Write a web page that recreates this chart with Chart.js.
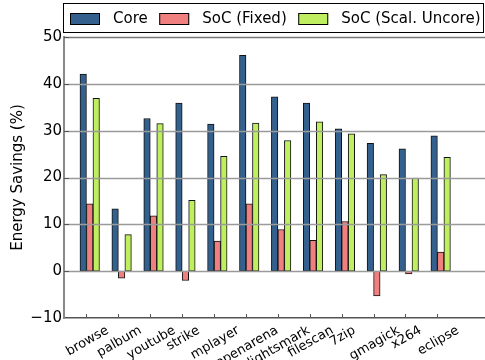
<!DOCTYPE html>
<html>
<head>
<meta charset="utf-8">
<script src="https://cdn.jsdelivr.net/npm/chart.js@4/dist/chart.umd.min.js"></script>
<style>
  html, body { margin: 0; padding: 0; background: #fff; }
  #wrap { width: 485px; height: 360px; }
</style>
</head>
<body>
<div id="wrap"><canvas id="c" width="485" height="360"></canvas></div>
<script>
const categories = ['browse','palbum','youtube','strike','mplayer','openarena','lightsmark','filescan','7zip','gmagick','x264','eclipse'];
const coreValues = [42.1, 13.3, 32.6, 35.9, 31.4, 46.1, 37.2, 35.9, 30.4, 27.3, 26.1, 28.9];
const socFixedValues = [14.4, -1.5, 11.8, -2.0, 6.4, 14.4, 8.9, 6.6, 10.6, -5.3, -0.6, 4.1];
const socScalValues = [36.9, 7.8, 31.5, 15.1, 24.5, 31.6, 27.9, 31.9, 29.3, 20.6, 19.9, 24.3];
const seriesNames = ['Core', 'SoC (Fixed)', 'SoC (Scal. Uncore)'];
const yTickValues = [-10, 0, 10, 20, 30, 40, 50];

const FONT = "'DejaVu Sans', sans-serif";
Chart.defaults.color = '#000';
Chart.defaults.font.family = FONT;

const colors = ['#33608c', '#f08080', '#bfef60'];
const toPoints = arr => arr.map((v, i) => ({ x: i, y: v }));

const overlay = {
  id: 'overlay',
  afterDatasetsDraw(chart) {
    const ctx = chart.ctx;
    const ca = chart.chartArea;
    const ys = chart.scales.y;
    ctx.save();
    yTickValues.forEach(v => {
      if (v === -10) return;
      const py = Math.round(ys.getPixelForValue(v)) + 0.5;
      ctx.strokeStyle = v === 50 ? '#777' : '#9a9a9a';
      ctx.lineWidth = 1.5;
      ctx.beginPath(); ctx.moveTo(ca.left, py); ctx.lineTo(ca.right, py); ctx.stroke();
      ctx.strokeStyle = '#555';
      ctx.lineWidth = 1;
      ctx.beginPath(); ctx.moveTo(ca.left, py); ctx.lineTo(ca.left + 5, py); ctx.stroke();
    });
    ctx.restore();
  },
  afterDraw(chart) {
    const ctx = chart.ctx;
    const ca = chart.chartArea;
    const xs = chart.scales.x;
    ctx.save();
    ctx.font = '13px ' + FONT;
    categories.forEach((name, i) => {
      const tx = xs.getPixelForValue(i - 0.102);
      ctx.strokeStyle = '#555';
      ctx.lineWidth = 1;
      ctx.beginPath(); ctx.moveTo(Math.round(tx) + 0.5, ca.bottom); ctx.lineTo(Math.round(tx) + 0.5, ca.bottom - 4); ctx.stroke();
      const w = ctx.measureText(name).width;
      const h = 13 * 1.15;
      const bboxH = w * 0.5 + h * 0.866;
      const cy = ca.bottom + 5 + bboxH / 2;
      ctx.save();
      ctx.translate(tx + 1, cy);
      ctx.rotate(-Math.PI / 6);
      ctx.fillStyle = '#000';
      ctx.textAlign = 'center';
      ctx.textBaseline = 'middle';
      ctx.fillText(name, 0, 0);
      ctx.restore();
    });
    ctx.strokeStyle = '#000';
    ctx.lineWidth = 1;
    ctx.strokeRect(63.5, 3.5, 420, 29);
    ctx.font = '15px ' + FONT;
    ctx.textBaseline = 'middle';
    ctx.textAlign = 'left';
    let x = 70;
    chart.data.datasets.forEach(ds => {
      ctx.fillStyle = ds.backgroundColor;
      ctx.fillRect(x, 13, 30, 12);
      ctx.strokeStyle = '#000';
      ctx.strokeRect(x + 0.5, 13.5, 29, 11);
      ctx.fillStyle = '#000';
      ctx.fillText(ds.label, x + 43, 19.5);
      x = x + 43 + ctx.measureText(ds.label).width + 11.5;
    });
    ctx.restore();
  }
};

new Chart(document.getElementById('c'), {
  type: 'bar',
  data: {
    datasets: [
      { label: seriesNames[0], data: toPoints(coreValues), backgroundColor: colors[0] },
      { label: seriesNames[1], data: toPoints(socFixedValues), backgroundColor: colors[1] },
      { label: seriesNames[2], data: toPoints(socScalValues), backgroundColor: colors[2] }
    ]
  },
  options: {
    responsive: false,
    animation: false,
    layout: { padding: { top: 37, left: 0, right: 0, bottom: 0 } },
    datasets: {
      bar: { barThickness: 6.5, borderWidth: 1, borderColor: '#111', borderSkipped: false }
    },
    plugins: { legend: { display: false }, tooltip: { enabled: false } },
    scales: {
      x: {
        type: 'linear',
        offset: false,
        min: -0.806,
        max: 12.39,
        ticks: { display: false },
        grid: { display: false, offset: false },
        border: { display: true, color: '#555', width: 1.5 },
        afterFit(scale) { scale.height = 42; }
      },
      y: {
        min: -10,
        max: 50,
        afterBuildTicks(scale) { scale.ticks = yTickValues.map(v => ({ value: v })); },
        ticks: {
          font: { size: 15, family: FONT },
          color: '#000',
          padding: 2,
          callback: v => (v < 0 ? '\u2212' + Math.abs(v) : String(v))
        },
        grid: { display: false, drawTicks: false },
        border: { display: true, color: '#888', width: 2 },
        title: {
          display: true,
          text: 'Energy Savings (%)',
          font: { size: 15, family: FONT },
          color: '#000',
          padding: { top: 9, bottom: 0 }
        },
        afterFit(scale) { scale.width = 64; }
      }
    }
  },
  plugins: [overlay]
});
</script>
</body>
</html>
